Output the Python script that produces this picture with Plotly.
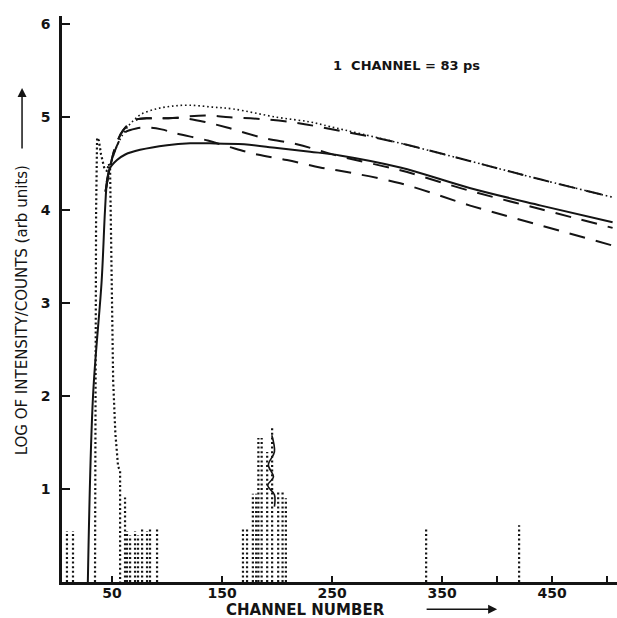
import plotly.graph_objects as go

# ---------------- data ----------------
# solid fitted curve
solid_ch = [28, 32.7, 40.6, 43.6, 45.5, 48, 54.5, 62, 75.5, 100, 121, 139, 170, 200, 230, 257, 312, 375, 440, 505]
solid_v  = [0, 2.0, 3.25, 4.0, 4.32, 4.45, 4.54, 4.60, 4.65, 4.70, 4.72, 4.72, 4.71, 4.67, 4.63, 4.59, 4.46, 4.24, 4.05, 3.87]

# dotted fitted curve (top)
dotfit_ch = [46, 52, 62, 69, 76, 90, 104.5, 120, 141, 160, 200, 230, 248, 309, 375, 440, 505]
dotfit_v  = [4.35, 4.62, 4.86, 4.96, 5.03, 5.09, 5.12, 5.13, 5.11, 5.09, 5.00, 4.95, 4.90, 4.73, 4.53, 4.33, 4.14]

# dashed curve A (upper, merges with dotted curve)
dashA_ch = [44, 48, 52.7, 60, 70.9, 85, 100.9, 134.5, 157, 187, 218, 241.8, 309, 375, 440, 505]
dashA_v  = [4.2, 4.45, 4.67, 4.86, 4.97, 4.99, 4.99, 5.02, 5.00, 4.98, 4.94, 4.89, 4.73, 4.53, 4.33, 4.14]

# dashed curve B (lowest at the right)
dashB_ch = [45, 52, 58, 62, 72, 83, 95, 107, 137, 157, 182, 209, 239, 254.5, 312, 375.5, 414.5, 505]
dashB_v  = [4.3, 4.62, 4.78, 4.84, 4.88, 4.89, 4.87, 4.83, 4.75, 4.68, 4.60, 4.54, 4.46, 4.43, 4.29, 4.05, 3.92, 3.62]

# dashed curve C (branches from A, ends next to the solid one)
dashC_ch = [44, 48, 52.7, 60, 70.9, 85, 100.9, 115, 134.5, 154.5, 187, 218, 239, 257, 312, 375, 440, 505]
dashC_v  = [4.2, 4.45, 4.67, 4.86, 4.97, 4.99, 4.99, 4.99, 4.95, 4.89, 4.78, 4.71, 4.64, 4.58, 4.43, 4.21, 4.01, 3.81]

# measured data: main peak (dotted)
peak_ch = [34.5, 35.0, 35.5, 36.4, 38, 40, 43, 45.5, 47, 48.2, 49.7, 51, 53, 55.5, 57.3, 57.3]
peak_v  = [0, 2.0, 4.0, 4.78, 4.75, 4.6, 4.45, 4.42, 4.5, 4.45, 3.25, 2.17, 1.6, 1.24, 1.2, 0]

# measured data: isolated channels (dotted columns)
bar_ch = [9, 14.5, 61.8, 63.6, 66.4, 70.9, 73.6, 77.3, 81.8, 84.5, 90.9,
          169, 172.7, 178, 181, 183, 186, 191, 195.5, 201, 205, 208, 335.5, 420]
bar_v  = [0.55, 0.55, 0.91, 0.55, 0.5, 0.55, 0.5, 0.57, 0.55, 0.57, 0.58,
          0.58, 0.58, 0.95, 0.95, 1.55, 1.55, 1.4, 1.67, 0.97, 0.97, 0.9, 0.59, 0.61]

# short solid squiggle in the middle peak
sq_ch = [195.2, 197.6, 192.1, 196.7, 191.5, 197.6, 197.6]
sq_v  = [1.58, 1.40, 1.26, 1.13, 1.04, 0.94, 0.81]

x_tickvals = [50, 150, 250, 350, 400, 450, 500]
x_ticktext = ["50", "150", "250", "350", "", "450", ""]
y_tickvals = [1, 2, 3, 4, 5, 6]
y_ticktext = ["1", "2", "3", "4", "5", "6"]

INK = "#141414"

# build bar columns as vertical segments
bx, by = [], []
for c, v in zip(bar_ch, bar_v):
    bx += [c, c, None]
    by += [0, v, None]

fig = go.Figure()
fig.add_trace(go.Scatter(x=peak_ch, y=peak_v, mode="lines",
                         line=dict(color=INK, width=2.2, dash="2px,2.6px")))
fig.add_trace(go.Scatter(x=bx, y=by, mode="lines", connectgaps=False,
                         line=dict(color=INK, width=2.2, dash="2px,2.6px")))
fig.add_trace(go.Scatter(x=dotfit_ch, y=dotfit_v, mode="lines", line_shape="spline",
                         line=dict(color=INK, width=1.6, dash="1.6px,2.8px")))
fig.add_trace(go.Scatter(x=dashA_ch, y=dashA_v, mode="lines", line_shape="spline",
                         line=dict(color=INK, width=2, dash="16px,11px")))
fig.add_trace(go.Scatter(x=dashB_ch, y=dashB_v, mode="lines", line_shape="spline",
                         line=dict(color=INK, width=2, dash="16px,11px")))
fig.add_trace(go.Scatter(x=dashC_ch, y=dashC_v, mode="lines", line_shape="spline",
                         line=dict(color=INK, width=2, dash="16px,11px")))
fig.add_trace(go.Scatter(x=solid_ch, y=solid_v, mode="lines", line_shape="spline",
                         line=dict(color=INK, width=2)))
fig.add_trace(go.Scatter(x=sq_ch, y=sq_v, mode="lines", line_shape="spline",
                         line=dict(color=INK, width=1.6)))

FONT = "DejaVu Sans"
fig.update_layout(
    width=617, height=618,
    margin=dict(l=62, r=0, t=16, b=36),
    paper_bgcolor="white", plot_bgcolor="white",
    showlegend=False,
    font=dict(family=FONT, color=INK),
    xaxis=dict(range=[4.5, 509], showgrid=False, zeroline=False,
               showline=True, linewidth=2.5, linecolor=INK,
               ticks="inside", ticklen=6, tickwidth=1.5, tickcolor=INK,
               tickvals=x_tickvals, ticktext=x_ticktext, ticklabelstandoff=-4,
               tickfont=dict(family=FONT, size=14, color=INK, weight="bold")),
    yaxis=dict(range=[0, 6.09], showgrid=False, zeroline=False,
               showline=True, linewidth=2.5, linecolor=INK,
               ticks="inside", ticklen=8, tickwidth=1.5, tickcolor=INK,
               tickvals=y_tickvals, ticktext=y_ticktext, ticklabelstandoff=6,
               tickfont=dict(family=FONT, size=14, color=INK, weight="bold")),
    annotations=[
        dict(text="1  CHANNEL = 83 ps", xref="paper", yref="paper",
             x=0.484, y=0.913, xanchor="left", yanchor="middle", showarrow=False,
             font=dict(family=FONT, size=13, color=INK, weight="bold")),
        dict(text="LOG OF INTENSITY/COUNTS (arb units)", xref="paper", yref="paper",
             x=-0.072, y=0.48, xanchor="center", yanchor="middle", textangle=-90,
             showarrow=False, font=dict(family=FONT, size=15, color=INK)),
        dict(text="", xref="paper", yref="paper", x=-0.072, y=0.873,
             ax=0, ay=62, showarrow=True, arrowhead=2, arrowsize=1.2,
             arrowwidth=1.5, arrowcolor=INK),
        dict(text="CHANNEL NUMBER", xref="paper", yref="paper",
             x=0.438, y=-0.049, xanchor="center", yanchor="middle",
             showarrow=False, font=dict(family=FONT, size=15, color=INK, weight="bold")),
        dict(text="", xref="paper", yref="paper", x=0.784, y=-0.048,
             ax=-72, ay=0, showarrow=True, arrowhead=2, arrowsize=1.2,
             arrowwidth=1.5, arrowcolor=INK),
    ],
)

fig.write_html("out.html")
